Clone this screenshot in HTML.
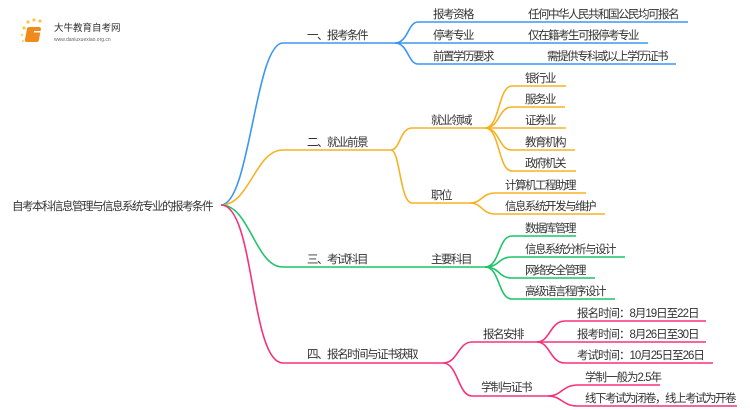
<!DOCTYPE html>
<html><head><meta charset="utf-8"><style>
html,body{margin:0;padding:0;background:#fff;width:750px;height:410px;overflow:hidden}
svg text{font-family:"Liberation Sans","Noto Sans CJK SC",sans-serif;font-size:11.5px;letter-spacing:-1.5px;fill:#333}
svg text.d{letter-spacing:-1px}
</style></head><body>
<svg width="750" height="410" viewBox="0 0 750 410" xmlns="http://www.w3.org/2000/svg">
<g>
<circle cx="24" cy="28" r="1.6" fill="#f7c64a"/><circle cx="28" cy="22" r="1.6" fill="#f7c64a"/><circle cx="34" cy="20" r="1.6" fill="#f7c64a"/><circle cx="40" cy="21" r="1.6" fill="#f7c64a"/><circle cx="22" cy="35" r="1.3" fill="#f7d47a"/><circle cx="23" cy="41" r="1.2" fill="#f7d47a"/>
<rect x="32" y="27" width="14" height="15" rx="2" fill="#f08a1c" transform="skewX(-10)"/>
<rect x="34" y="31" width="7" height="1.5" fill="#fff"/>
<text x="54" y="31" style="font-size:9.5px;letter-spacing:0;fill:#333">大牛教育自考网</text>
<text x="54" y="41" style="font-size:5px;letter-spacing:0;fill:#666">www.daniuxuexiao.org.cn</text>
</g>
<g fill="none" stroke-width="1.6">
<g stroke="#3b95f2">
<path d="M221 205 C250 205,255 43,283 43 L395 43"/>
<path d="M395 43 C408 43,408 22,418 22 L688 22"/>
<path d="M395 43 L648 43"/>
<path d="M395 43 C408 43,408 64,418 64 L676 64"/>
</g>
<g stroke="#f5b223">
<path d="M221 205 C250 205,255 150,283 150 L391 150"/>
<path d="M391 150 C400 150,400 128,412 128 L485 128"/>
<path d="M391 150 C400 150,400 203,412 203 L470 203"/>
<path d="M485 128 C500 128,498 86,512 86 L566 86"/>
<path d="M485 128 C500 128,498 107,512 107 L565 107"/>
<path d="M485 128 L566 128"/>
<path d="M485 128 C500 128,498 150,512 150 L575 150"/>
<path d="M485 128 C500 128,498 171,512 171 L576 171"/>
<path d="M470 203 C482 203,482 193,495 193 L586 193"/>
<path d="M470 203 C482 203,482 214,495 214 L605 214"/>
</g>
<g stroke="#1fc46a">
<path d="M221 205 C250 205,255 267,283 267 L485 267"/>
<path d="M485 267 C500 267,498 236,512 236 L576 236"/>
<path d="M485 267 C500 267,498 257,512 257 L625 257"/>
<path d="M485 267 C500 267,498 278,512 278 L595 278"/>
<path d="M485 267 C500 267,498 299,512 299 L615 299"/>
</g>
<g stroke="#f5317a">
<path d="M221 205 C255 205,250 363,283 363 L443 363"/>
<path d="M443 363 C458 363,458 342,472 342 L537 342"/>
<path d="M443 363 C458 363,458 396,472 396 L548 396"/>
<path d="M537 342 C550 342,550 321,565 321 L706 321"/>
<path d="M537 342 L706 342"/>
<path d="M537 342 C550 342,550 363,565 363 L713 363"/>
<path d="M548 396 C562 396,562 385,578 385 L660 385"/>
<path d="M548 396 C562 396,562 406,578 406 L737 406"/>
</g>
</g>
<text x="12" y="210">自考本科信息管理与信息系统专业的报考条件</text>
<text x="307" y="39">一、报考条件</text>
<text x="307" y="146">二、就业前景</text>
<text x="307" y="263">三、考试科目</text>
<text x="307" y="358">四、报名时间与证书获取</text>
<text x="433" y="18">报考资格</text><text x="528" y="18">任何中华人民共和国公民均可报名</text>
<text x="433" y="39">停考专业</text><text x="528" y="39">仅在籍考生可报停考专业</text>
<text x="433" y="60">前置学历要求</text><text x="547" y="60">需提供专科或以上学历证书</text>
<text x="431" y="124">就业领域</text>
<text x="525" y="82">银行业</text><text x="525" y="103">服务业</text><text x="525" y="124">证券业</text><text x="525" y="146">教育机构</text><text x="525" y="167">政府机关</text>
<text x="431" y="199">职位</text>
<text x="505" y="189">计算机工程助理</text><text x="505" y="210">信息系统开发与维护</text>
<text x="431" y="263">主要科目</text>
<text x="525" y="232">数据库管理</text><text x="525" y="253">信息系统分析与设计</text><text x="525" y="274">网络安全管理</text><text x="525" y="295">高级语言程序设计</text>
<text x="483" y="338">报名安排</text>
<text class="d" x="577" y="317">报名时间：8月19日至22日</text><text class="d" x="577" y="338">报考时间：8月26日至30日</text><text class="d" x="577" y="359">考试时间：10月25日至26日</text>
<text x="481" y="391">学制与证书</text>
<text class="d" x="585" y="381">学制一般为2.5年</text><text x="585" y="402">线下考试为闭卷，线上考试为开卷</text>
</svg>
</body></html>
